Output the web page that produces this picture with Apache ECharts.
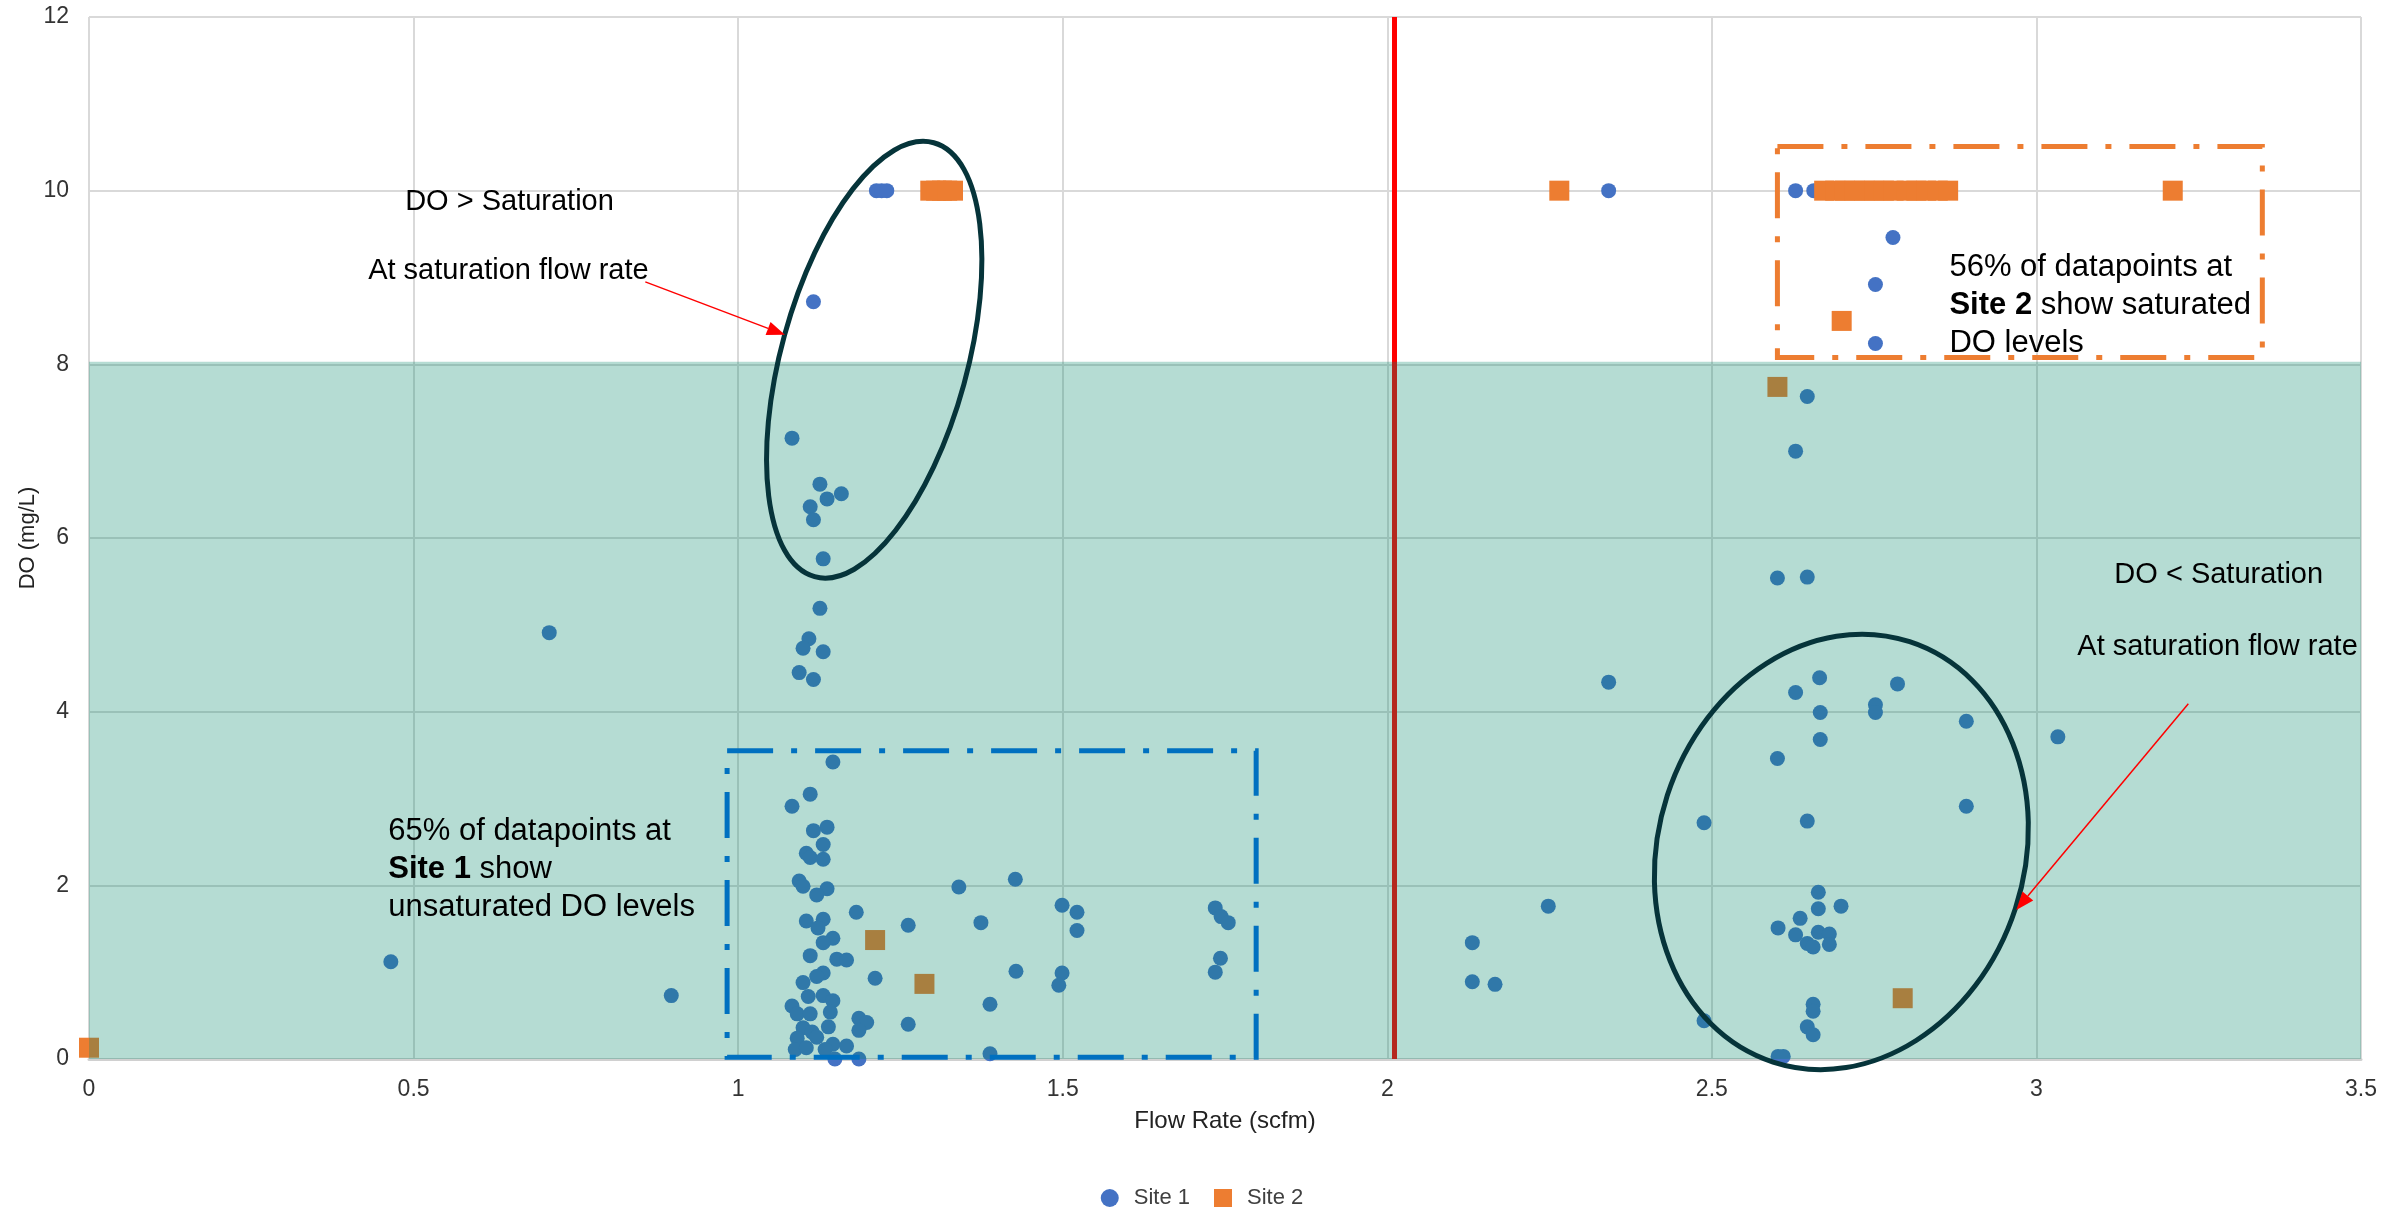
<!DOCTYPE html>
<html>
<head>
<meta charset="utf-8">
<title>DO vs Flow Rate</title>
<script src="https://cdn.jsdelivr.net/npm/echarts@6/dist/echarts.min.js"></script>
<style>
html, body { margin: 0; padding: 0; background: #fff; }
#chart { width: 2404px; height: 1212px; }
</style>
</head>
<body>
<div id="chart"></div>
<script>
// Site 1 readings (flow rate, DO)
var site1X = [1.213, 1.221, 1.229, 1.116, 1.083, 1.126, 1.159, 1.137, 1.111, 1.116, 1.131, 1.126, 1.109, 1.100, 1.131, 1.094, 1.116,
  0.709, 0.465, 0.897,
  1.146, 1.111, 1.083, 1.137, 1.116, 1.131, 1.105, 1.111, 1.131, 1.094, 1.100, 1.137, 1.121, 1.182, 1.105, 1.131, 1.123, 1.146,
  1.131, 1.111, 1.152, 1.167, 1.211, 1.131, 1.121, 1.100, 1.108, 1.131, 1.146, 1.083, 1.091, 1.111, 1.142, 1.186, 1.198, 1.186,
  1.139, 1.100, 1.114, 1.091, 1.121, 1.146, 1.167, 1.088, 1.105, 1.134, 1.149, 1.186,
  1.262, 1.262, 1.340, 1.374, 1.388, 1.388, 1.427, 1.428, 1.499, 1.522, 1.522, 1.499, 1.494, 1.735, 1.744, 1.755, 1.743, 1.735,
  2.341, 2.629, 2.657, 2.779, 2.752, 2.752, 2.647, 2.629, 2.601, 2.647, 2.341, 2.666, 2.786, 2.629, 2.752, 2.752, 2.667, 2.892,
  3.033, 2.667, 2.601, 2.892, 2.488, 2.647, 2.248, 2.664, 2.699, 2.664, 2.636, 2.602, 2.629, 2.664, 2.681, 2.647, 2.656, 2.681,
  2.131, 2.131, 2.166, 2.488, 2.656, 2.656, 2.647, 2.656, 2.602, 2.610];
var site1Y = [10, 10, 10, 8.72, 7.15, 6.62, 6.51, 6.45, 6.36, 6.21, 5.76, 5.19, 4.84, 4.73, 4.69, 4.45, 4.37,
  4.91, 1.12, 0.73,
  3.42, 3.05, 2.91, 2.67, 2.63, 2.47, 2.37, 2.32, 2.30, 2.05, 1.99, 1.96, 1.89, 1.69, 1.59, 1.61, 1.51, 1.39,
  1.34, 1.19, 1.15, 1.14, 0.93, 0.99, 0.95, 0.88, 0.72, 0.73, 0.67, 0.61, 0.52, 0.52, 0.54, 0.47, 0.42, 0.33,
  0.37, 0.36, 0.31, 0.24, 0.25, 0.17, 0.15, 0.11, 0.13, 0.11, 0.0, 0.0,
  1.54, 0.40, 1.98, 1.57, 0.63, 0.06, 2.07, 1.01, 1.77, 1.69, 1.48, 0.99, 0.85, 1.74, 1.64, 1.57, 1.16, 1.00,
  10, 10, 10, 9.46, 8.92, 8.24, 7.63, 7.00, 5.54, 5.55, 4.34, 4.39, 4.32, 4.22, 4.08, 3.99, 3.99, 3.89,
  3.71, 3.68, 3.46, 2.91, 2.72, 2.74, 1.76, 1.92, 1.76, 1.73, 1.62, 1.51, 1.43, 1.46, 1.44, 1.33, 1.29, 1.32,
  1.34, 0.89, 0.86, 0.44, 0.63, 0.55, 0.37, 0.28, 0.03, 0.03];

// Site 2 readings
var site2X = [0.0, 1.211, 1.287, 1.296, 1.305, 1.314, 1.322, 1.331, 2.265, 3.21,
  2.673, 2.69, 2.705, 2.72, 2.735, 2.75, 2.765, 2.78, 2.80, 2.815, 2.83, 2.848, 2.864,
  2.70, 2.601, 2.794];
var site2Y = [0.13, 1.37, 0.865, 10, 10, 10, 10, 10, 10, 10,
  10, 10, 10, 10, 10, 10, 10, 10, 10, 10, 10, 10, 10,
  8.50, 7.74, 0.70];

var xTicks = [0, 0.5, 1, 1.5, 2, 2.5, 3, 3.5];
var yTicks = [0, 2, 4, 6, 8, 10, 12];

// saturation thresholds
var saturationDO = 8.03;
var saturationFlow = 2.007;

function pairs(xs, ys) {
  var out = [];
  for (var i = 0; i < xs.length; i++) out.push([xs[i], ys[i]]);
  return out;
}

var FONT = '"Liberation Sans", Arial, sans-serif';
var chart = echarts.init(document.getElementById('chart'));

var option = {
  animation: false,
  backgroundColor: '#fff',
  grid: { left: 89, right: 43, top: 17, bottom: 153, containLabel: false, outerBoundsMode: 'none' },
  legend: {
    data: ['Site 1', 'Site 2'],
    top: 1182,
    itemWidth: 18,
    itemHeight: 18,
    itemGap: 24,
    textStyle: { fontSize: 22, color: '#404040', fontFamily: FONT, padding: [0, 0, 0, 10] }
  },
  xAxis: {
    type: 'value',
    min: xTicks[0],
    max: xTicks[xTicks.length - 1],
    interval: xTicks[1] - xTicks[0],
    name: 'Flow Rate (scfm)',
    nameLocation: 'middle',
    nameGap: 50,
    nameMoveOverlap: false,
    nameTextStyle: { fontSize: 24, color: '#222', fontFamily: FONT },
    axisLine: { show: true, lineStyle: { color: '#D0D0D0', width: 3 } },
    axisTick: { show: false },
    axisLabel: { fontSize: 23, color: '#333', margin: 19, fontFamily: FONT },
    splitLine: { show: true, lineStyle: { color: '#D9D9D9', width: 2 } }
  },
  yAxis: {
    type: 'value',
    min: yTicks[0],
    max: yTicks[yTicks.length - 1],
    interval: yTicks[1] - yTicks[0],
    name: 'DO (mg/L)',
    nameLocation: 'middle',
    nameGap: 50,
    nameMoveOverlap: false,
    nameTextStyle: { fontSize: 22, color: '#222', fontFamily: FONT },
    axisLine: { show: false },
    axisTick: { show: false },
    axisLabel: { fontSize: 23, color: '#333', margin: 20, fontFamily: FONT },
    splitLine: { show: true, lineStyle: { color: '#D9D9D9', width: 2 } }
  },
  series: [
    {
      name: 'Site 1',
      type: 'scatter',
      symbol: 'circle',
      symbolSize: 15,
      clip: false,
      itemStyle: { color: '#4472C4', opacity: 1 },
      data: pairs(site1X, site1Y),
      markLine: {
        silent: true,
        symbol: 'none',
        z: 5,
        label: { show: false },
        lineStyle: { color: '#FF0000', width: 5, type: 'solid' },
        data: [{ xAxis: saturationFlow }]
      }
    },
    {
      name: 'Site 2',
      type: 'scatter',
      symbol: 'rect',
      symbolSize: 20,
      clip: false,
      itemStyle: { color: '#ED7D31', opacity: 1 },
      data: pairs(site2X, site2Y)
    },
    {
      name: 'under saturation',
      type: 'scatter',
      data: [],
      z: 8,
      markArea: {
        silent: true,
        z: 8,
        itemStyle: { color: 'rgba(0,135,105,0.29)', opacity: 1, borderWidth: 0 },
        label: { show: false },
        data: [[{ xAxis: 0, yAxis: 0 }, { xAxis: 3.513, yAxis: saturationDO }]]
      }
    }
  ]
};
chart.setOption(option);

// annotations, placed in data coordinates
function px(x, y) {
  return chart.convertToPixel({ gridIndex: 0 }, [x, y]);
}

function ellipse(cx, cy, rx, ry, deg) {
  var c = px(cx, cy);
  return {
    type: 'ellipse', x: c[0], y: c[1], rotation: -deg * Math.PI / 180, z: 100, silent: true,
    shape: { cx: 0, cy: 0, rx: rx, ry: ry },
    style: { fill: 'none', stroke: '#06343A', lineWidth: 5 }
  };
}

function dashBox(x0, y0, x1, y1, color) {
  var a = px(x0, y1), b = px(x1, y0);
  return {
    type: 'rect', z: 100, silent: true,
    shape: { x: a[0], y: a[1], width: b[0] - a[0], height: b[1] - a[1] },
    style: { fill: 'none', stroke: color, lineWidth: 5, lineDash: [46, 18, 6, 18] }
  };
}

function arrow(from, to) {
  var a = px(from[0], from[1]), b = px(to[0], to[1]);
  var ang = Math.atan2(b[1] - a[1], b[0] - a[0]);
  var len = 18, half = 7;
  var base = [b[0] - len * Math.cos(ang), b[1] - len * Math.sin(ang)];
  var p1 = [base[0] + half * Math.sin(ang), base[1] - half * Math.cos(ang)];
  var p2 = [base[0] - half * Math.sin(ang), base[1] + half * Math.cos(ang)];
  return [
    { type: 'line', z: 100, silent: true, shape: { x1: a[0], y1: a[1], x2: base[0], y2: base[1] },
      style: { stroke: '#FF0000', lineWidth: 1.5 } },
    { type: 'polygon', z: 100, silent: true, shape: { points: [b, p1, p2] }, style: { fill: '#FF0000' } }
  ];
}

function label(x, y, text, size, valign) {
  var p = px(x, y);
  return {
    type: 'text', x: p[0], y: p[1], z: 101, silent: true,
    style: {
      text: text, fill: '#000', fontSize: size, fontFamily: FONT, lineHeight: 38,
      align: 'left', verticalAlign: valign, textAlign: 'left', textVerticalAlign: valign,
      rich: { b: { fontWeight: 'bold', fontSize: size, fontFamily: FONT, lineHeight: 38, fill: '#000' } }
    }
  };
}

var graphics = [
  dashBox(0.983, 0.02, 1.798, 3.55, '#0070C0'),
  dashBox(2.601, 8.08, 3.348, 10.51, '#ED7D31'),
  ellipse(1.2096, 8.053, 93, 225, 15.35),
  ellipse(2.6995, 2.385, 183, 221, 18),
  label(0.487, 9.87, 'DO > Saturation', 29, 'middle'),
  label(0.430, 9.07, 'At saturation flow rate', 29, 'middle'),
  label(3.120, 5.576, 'DO < Saturation', 29, 'middle'),
  label(3.063, 4.747, 'At saturation flow rate', 29, 'middle'),
  label(2.866, 9.33, '56% of datapoints at\n{b|Site 2} show saturated\nDO levels', 31, 'top'),
  label(0.461, 2.834, '65% of datapoints at\n{b|Site 1} show\nunsaturated DO levels', 31, 'top')
].concat(arrow([0.857, 8.95], [1.072, 8.34]), arrow([3.234, 4.09], [2.969, 1.717]));

chart.setOption({ graphic: graphics });
</script>
</body>
</html>
